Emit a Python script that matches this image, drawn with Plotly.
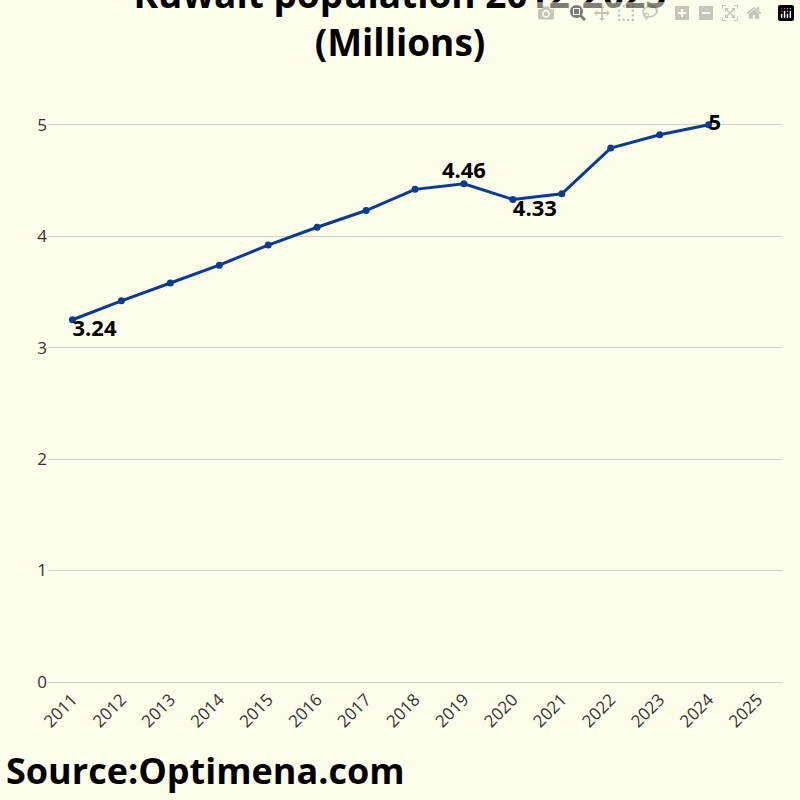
import plotly.graph_objects as go

years = [str(y) for y in range(2011, 2026)]
pop_years = [str(y) for y in range(2011, 2025)]
population = [3.25, 3.42, 3.58, 3.74, 3.92, 4.08, 4.23, 4.42, 4.47, 4.33, 4.38, 4.79, 4.91, 5.0]
label_years = ['2011', '2019', '2020', '2024']
label_vals = ['3.24', '4.46', '4.33', '5']
label_y = [3.25, 4.47, 4.33, 5.0]
label_pos = ['bottom right', 'top center', 'bottom right', 'middle right']

fig = go.Figure()
fig.add_trace(go.Scatter(x=pop_years, y=population, mode='lines+markers',
                         line=dict(color='#0B3B8C', width=3),
                         marker=dict(size=7, color='#0B3B8C')))

for yr, v, yy, pos in zip(label_years, label_vals, label_y, label_pos):
    fig.add_trace(go.Scatter(x=[yr], y=[yy], mode='text', text=[f'<b>{v}</b>'],
                             textposition=pos, textfont=dict(size=22, color='black'),
                             cliponaxis=False))

fig.update_layout(
    width=800, height=800,
    paper_bgcolor='#FDFDEB', plot_bgcolor='#FDFDEB',
    font=dict(family='Open Sans', color='black'),
    title=dict(text='<b>Kuwait population 2012-2025<br>(Millions)</b>', x=0.5, y=0.99,
               yanchor='top', font=dict(size=37, color='black')),
    margin=dict(l=48, r=18, t=108, b=118),
    showlegend=False,
)
fig.update_xaxes(type='category', categoryorder='array', categoryarray=years,
                 tickvals=years, range=[-0.5, 14.5], tickangle=-45,
                 tickfont=dict(size=17, color='#333'), showgrid=False,
                 showline=True, linecolor='#ccc', ticks='')
fig.update_yaxes(range=[0, 5.15], tickvals=[0, 1, 2, 3, 4, 5], showgrid=True,
                 gridcolor='#D5D5C5', zeroline=False, tickfont=dict(size=17, color='#333'),
                 ticksuffix='      ')
fig.add_annotation(text='<b>Source:Optimena.com</b>', xref='paper', yref='paper',
                   x=-0.06, y=-0.2, xanchor='left', yanchor='bottom', showarrow=False,
                   font=dict(size=36, color='black'))
fig.write_html('out.html', post_script="document.body.style.margin='0';")
